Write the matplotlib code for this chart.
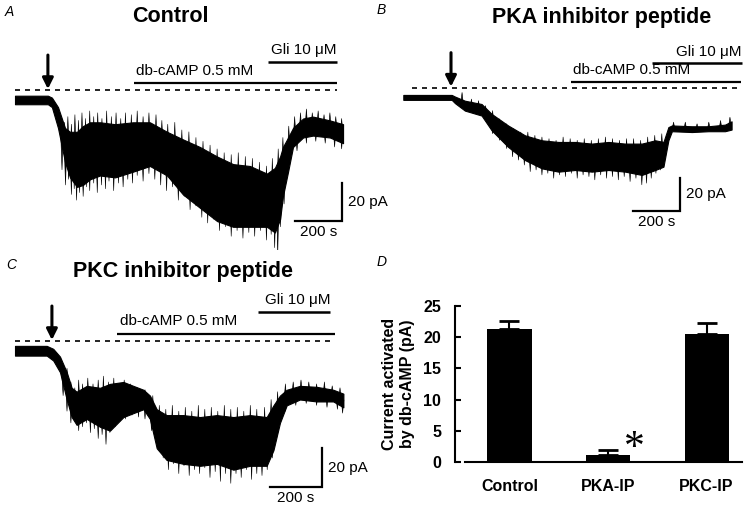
import matplotlib
matplotlib.use("Agg")
import matplotlib.pyplot as plt
from matplotlib.collections import PolyCollection
import numpy as np

plt.rcParams['font.family'] = ['Liberation Sans', 'DejaVu Sans']

# ---- data (time in s, current in pA) ----
# panel A, control: dense core of the trace (upper / lower edge) plus noise spikes (t, tip)
tA = [0, 140, 157, 183, 213, 234, 264, 289, 319, 362, 426, 502, 574, 647, 715,
      787, 860, 928, 1000, 1072, 1106, 1128, 1140, 1162, 1183, 1226, 1268, 1340, 1396]
hiA = [-3, -3, -4, -9, -20, -22, -22, -19, -17, -17, -18, -17, -17, -22, -26,
       -30, -35, -39, -40, -44, -41, -35, -30, -25, -20, -15, -14, -16, -18]
loA = [-7.5, -7.5, -9, -20, -38, -46, -51, -50, -47, -45, -46, -43, -40, -45, -55,
       -62, -69, -72, -72, -72, -75, -68, -56, -43, -30, -25, -24, -25, -28]
spk_dn_A = [(200, -42), (215, -50), (228, -47), (240, -55), (252, -52), (262, -58), (275, -54),
            (290, -56), (305, -51), (318, -53), (335, -49), (350, -54), (368, -50), (385, -52),
            (400, -48), (420, -53), (440, -49), (460, -51), (480, -47), (500, -49), (520, -45),
            (545, -48), (570, -44), (595, -47), (620, -50), (645, -53), (670, -51), (695, -58),
            (720, -56), (745, -63), (770, -61), (795, -67), (820, -70), (845, -68), (870, -74),
            (895, -72), (920, -77), (945, -74), (970, -78), (995, -75), (1020, -77), (1045, -74),
            (1070, -79), (1090, -76), (1105, -83), (1118, -87), (1130, -72), (1145, -60),
            (1160, -45), (1200, -32), (1240, -28), (1280, -27), (1320, -28), (1360, -30), (1390, -31)]
spk_up_A = [(210, -17), (225, -14), (240, -18), (255, -13), (270, -16), (285, -12), (300, -15),
            (318, -11), (335, -14), (352, -12), (370, -15), (390, -11), (410, -14), (430, -12),
            (450, -15), (470, -12), (495, -13), (520, -11), (545, -14), (570, -12), (600, -13),
            (625, -16), (650, -18), (680, -17), (710, -21), (740, -22), (770, -25), (800, -27),
            (830, -29), (860, -31), (890, -33), (920, -34), (950, -33), (980, -35), (1010, -36),
            (1040, -38), (1070, -40), (1095, -36), (1120, -31), (1140, -25), (1165, -19),
            (1190, -14), (1215, -12), (1240, -10), (1265, -12), (1290, -11), (1315, -13),
            (1340, -12), (1365, -14), (1390, -15)]

# panel B, PKA inhibitor peptide
tB = [0, 206, 220, 262, 333, 376, 446, 518, 589, 660, 731, 802, 873, 944, 1015,
      1072, 1107, 1128, 1143, 1228, 1298, 1369, 1397]
hiB = [-4.5, -4.5, -5.5, -8, -10, -16, -23, -29, -32, -33, -33, -34, -33, -34, -34,
       -32, -33, -24, -23, -23.5, -23.5, -22.5, -20.5]
loB = [-7.5, -7.5, -9.5, -14, -17, -26, -36, -44, -49, -51, -50, -51, -50, -51, -53,
       -50, -48, -32, -26.5, -27, -26.5, -26.5, -25.5]
spk_dn_B = [(380, -28), (410, -32), (440, -37), (465, -42), (490, -44), (515, -47), (540, -51),
            (565, -50), (590, -53), (615, -52), (640, -55), (665, -53), (690, -54), (715, -52),
            (740, -55), (765, -53), (790, -54), (815, -56), (840, -53), (865, -55), (890, -54),
            (915, -56), (940, -54), (965, -57), (990, -55), (1015, -59), (1035, -58), (1055, -55),
            (1075, -52), (1095, -50)]
spk_up_B = [(250, -3), (290, -7), (320, -8), (350, -11), (380, -14), (410, -19), (440, -22),
            (470, -25), (500, -27), (530, -27), (560, -29), (590, -30), (620, -31), (650, -32),
            (680, -30), (710, -31), (740, -32), (770, -31), (800, -32), (830, -31), (860, -30),
            (890, -31), (920, -32), (950, -31), (980, -31), (1010, -32), (1040, -30), (1070, -29),
            (1100, -28), (1150, -21), (1200, -21), (1250, -22), (1300, -21), (1350, -20), (1390, -18)]

# panel C, PKC inhibitor peptide
tC = [0, 122, 147, 173, 199, 218, 237, 276, 327, 365, 417, 455, 494, 519, 545,
      583, 647, 712, 776, 840, 904, 968, 994, 1019, 1045, 1096, 1160, 1224, 1263]
hiC = [-2.5, -2.5, -4, -8, -16, -24, -26, -23, -24, -22, -21, -23, -25, -28, -35,
       -38, -38, -39, -38, -39, -38, -39, -33, -28, -25, -23, -23.5, -25, -27]
loC = [-7.5, -7.5, -10, -16, -30, -39, -43, -40, -44, -46, -39, -37, -35, -40, -55,
       -61, -63, -64, -63, -66, -64, -64, -56, -42, -33, -30, -31, -31, -34]
spk_dn_C = [(185, -28), (200, -36), (215, -42), (230, -40), (245, -46), (260, -44), (275, -42),
            (290, -47), (305, -45), (320, -50), (335, -48), (350, -53), (365, -47), (385, -44),
            (405, -41), (425, -40), (450, -38), (475, -39), (500, -40), (525, -46), (550, -55),
            (570, -60), (590, -66), (610, -63), (630, -68), (650, -64), (670, -69), (690, -66),
            (710, -68), (730, -65), (750, -70), (770, -67), (790, -72), (810, -68), (830, -73),
            (850, -68), (870, -70), (890, -66), (910, -71), (930, -68), (950, -69), (970, -66),
            (990, -60), (1010, -48), (1040, -36), (1080, -33), (1120, -32), (1160, -33),
            (1200, -34), (1240, -35), (1260, -37)]
spk_up_C = [(200, -14), (215, -21), (230, -24), (245, -20), (260, -22), (280, -19), (300, -22),
            (320, -20), (340, -18), (360, -21), (380, -19), (400, -22), (420, -20), (445, -22),
            (470, -24), (500, -25), (530, -28), (555, -33), (580, -35), (605, -33), (630, -36),
            (655, -34), (680, -36), (705, -33), (730, -35), (755, -34), (780, -36), (805, -33),
            (830, -35), (855, -34), (880, -36), (905, -33), (930, -35), (960, -34), (985, -30),
            (1010, -26), (1040, -22), (1070, -21), (1100, -20), (1130, -21), (1160, -22),
            (1190, -21), (1220, -23), (1250, -24)]

# application times (s): arrow, db-cAMP bar, Gli bar, dashed baseline, scale-bar corner
arrow_t = {'A': 140, 'B': 203, 'C': 142}
dbcamp_t = {'A': (506, 1370), 'B': (713, 1436), 'C': (392, 1231)}
gli_t = {'A': (1077, 1370), 'B': (1058, 1441), 'C': (935, 1212)}
dash_t = {'A': (0, 1370), 'B': (37, 1442), 'C': (0, 1231)}
scale_t = {'A': 1391, 'B': 1177, 'C': 1181}
scale_i = {'A': -68.9, 'B': -74.8, 'C': -74.9}

# panel D
groups = ['Control', 'PKA-IP', 'PKC-IP']
means = [21.3, 1.2, 20.5]
errs = [1.3, 0.7, 1.7]

W, H = 750, 515
fig = plt.figure(figsize=(W / 100, H / 100), dpi=100)


def box(x0, y0, x1, y1):
    return [x0 / W, 1 - y1 / H, (x1 - x0) / W, (y1 - y0) / H]


def trace_panel(key, px, origin, sx, sy, t, hi, lo, up, dn):
    x0, y0, x1, y1 = px
    ox, oy = origin
    ax = fig.add_axes(box(*px))
    ax.set_xlim((x0 - ox) / sx, (x1 - ox) / sx)
    ax.set_ylim((oy - y1) / sy, (oy - y0) / sy)
    ax.axis('off')
    ax.fill_between(t, lo, hi, color='black', lw=0.8)
    # noise spikes as thin slivers hanging off the dense core
    mid = (np.array(hi) + np.array(lo)) / 2
    half = 1.3 / sx
    polys = []
    for spikes in (up, dn):
        for ts, tip in spikes:
            base = np.interp(ts, t, mid)
            polys.append([(ts - half, base), (ts, tip), (ts + half, base)])
    ax.add_collection(PolyCollection(polys, facecolors='black', edgecolors='black', linewidths=0.4))
    d0, d1 = dash_t[key]
    ax.plot([d0, d1], [0, 0], color='black', lw=1.2, ls=(0, (3, 3)))
    b0, b1 = dbcamp_t[key]
    ax.plot([b0, b1], [3.5, 3.5], color='black', lw=1.6, solid_capstyle='butt')
    ax.text(b0 + 10, 6.5, 'db-cAMP 0.5 mM', fontsize=11, va='bottom', ha='left')
    g0, g1 = gli_t[key]
    ax.plot([g0, g1], [15, 15], color='black', lw=1.8, solid_capstyle='butt')
    ax.text(g1, 17.5, 'Gli 10 \u03bcM', fontsize=11, va='bottom', ha='right')
    ax.annotate('', xy=(arrow_t[key], 0.5), xytext=(arrow_t[key], 0.5 + 34 / sy),
                arrowprops=dict(arrowstyle='-|>', lw=2.2, color='black',
                                mutation_scale=16, shrinkA=0, shrinkB=0))
    st, si = scale_t[key], scale_i[key]
    ax.plot([st - 200, st, st], [si, si, si + 20], color='black', lw=1.6,
            solid_joinstyle='miter')
    ax.text(st + 6 / sx, si + 10, '20 pA', fontsize=11, va='center', ha='left')
    ax.text(st - 100, si - 4 / sy, '200 s', fontsize=11, va='top', ha='center')
    return ax


trace_panel('A', (0, 40, 375, 250), (15, 90), 0.235, 1.9, tA, hiA, loA, spk_up_A, spk_dn_A)
trace_panel('B', (375, 40, 750, 250), (403.3, 87.5), 0.235, 1.65, tB, hiB, loB, spk_up_B, spk_dn_B)
trace_panel('C', (0, 290, 375, 515), (15, 341), 0.26, 1.95, tC, hiC, loC, spk_up_C, spk_dn_C)

# titles and panel letters
fig.text(170 / W, 1 - 17 / H, 'Control', fontsize=15.5, fontweight='bold', ha='center', va='center')
fig.text(602 / W, 1 - 17 / H, 'PKA inhibitor peptide', fontsize=15.5, fontweight='bold', ha='center', va='center')
fig.text(183 / W, 1 - 272 / H, 'PKC inhibitor peptide', fontsize=15.5, fontweight='bold', ha='center', va='center')
for lab, (x, y) in {'A': (5, 12), 'B': (377, 10), 'C': (6, 265), 'D': (377, 262)}.items():
    fig.text(x / W, 1 - y / H, lab, fontsize=10, fontstyle='italic', ha='left', va='center')

# panel D bar chart
axd = fig.add_axes(box(455, 306, 745, 462))
pos = list(range(len(groups)))
axd.bar(pos, means, width=0.447, color='black')
axd.errorbar(pos, means, yerr=[[0] * 3, errs], fmt='none', ecolor='black',
             elinewidth=1.5, capsize=7, capthick=2)
axd.set_xlim(-0.553, 2.39)
axd.set_ylim(0, 25)
axd.set_yticks([0, 5, 10, 15, 20, 25])
axd.set_xticks(pos)
axd.set_xticklabels(groups, fontsize=11.5, fontweight='bold')
for lbl in axd.get_yticklabels():
    lbl.set_fontweight('bold')
    lbl.set_fontsize(11.5)
axd.tick_params(axis='y', direction='in', length=4, width=1.5, pad=10)
axd.tick_params(axis='x', length=0, pad=12)
for s in ['top', 'right']:
    axd.spines[s].set_visible(False)
axd.spines['left'].set_linewidth(1.5)
axd.spines['bottom'].set_linewidth(1.5)
axd.spines['bottom'].set_bounds(-0.45, 2.36)
axd.set_ylabel('Current activated\nby db-cAMP (pA)', fontsize=11.5, fontweight='bold',
               labelpad=6, linespacing=1.2)
axd.text(1.27, 2.2, '*', family='Liberation Serif', fontsize=30, ha='center', va='center')

fig.savefig('out.png', dpi=100)
